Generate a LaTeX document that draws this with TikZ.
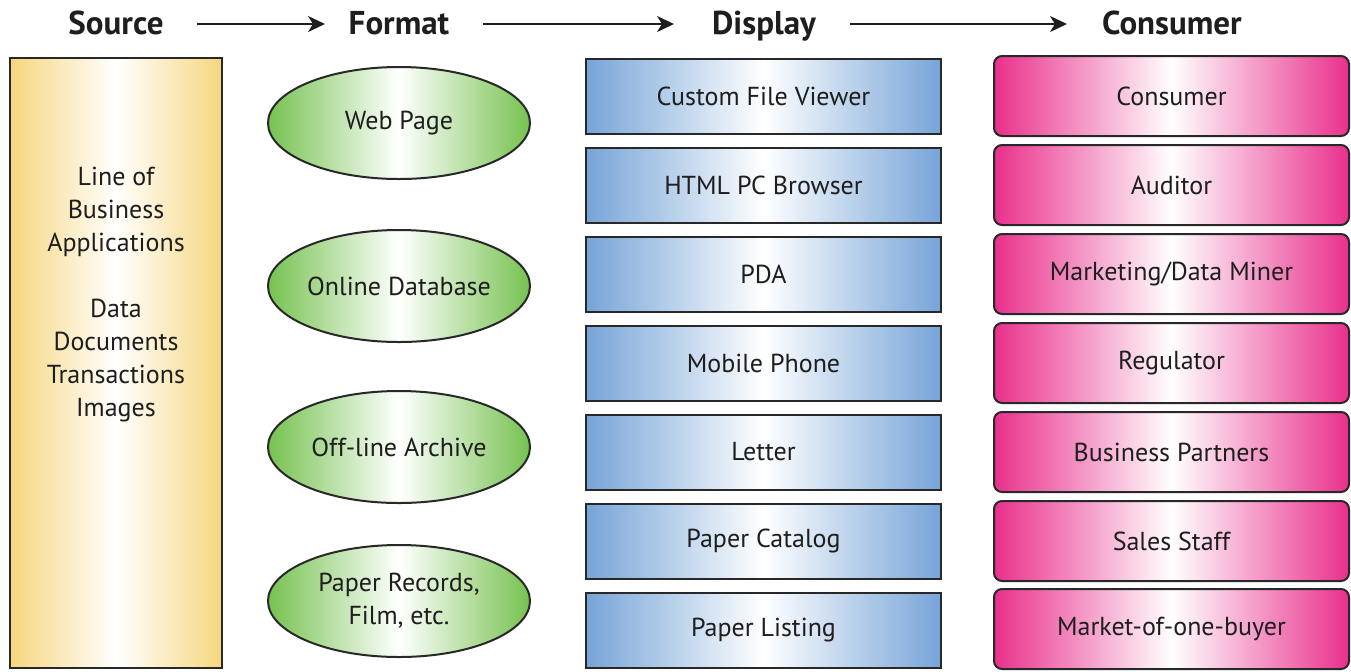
\documentclass[tikz,border=0pt]{standalone}
\usepackage{fontspec}
\setmainfont{PT Sans}
\usetikzlibrary{arrows.meta,shapes.geometric}
\definecolor{ylw}{RGB}{246,214,125}
\definecolor{grn}{RGB}{118,194,80}
\definecolor{blu}{RGB}{118,164,216}
\definecolor{pnk}{RGB}{233,48,140}
\definecolor{edgec}{RGB}{40,40,40}
\definecolor{txt}{RGB}{30,30,30}
\begin{document}
\begin{tikzpicture}[x=0.5pt,y=-0.5pt,
  hdr/.style={font=\fontsize{16.5}{18}\selectfont\bfseries, text=txt, anchor=base, inner sep=0pt},
  lbl/.style={font=\fontsize{13}{16.5}\selectfont, text=txt, align=center},
  arr/.style={draw=txt, line width=0.9pt, -{Stealth[length=8.5pt,width=8pt,inset=2.5pt]}},
  srcbox/.style={draw=edgec, line width=1pt, left color=ylw, right color=ylw, middle color=white,
    minimum width=106pt, minimum height=305pt, inner sep=0pt},
  fmtell/.style={ellipse, draw=edgec, line width=1pt, left color=grn, right color=grn, middle color=white,
    minimum width=131pt, minimum height=56pt, inner sep=0pt, lbl},
  dispbox/.style={rectangle, draw=edgec, line width=1pt, left color=blu, right color=blu, middle color=white,
    minimum width=177.5pt, minimum height=37.5pt, inner sep=0pt, lbl},
  consbox/.style={rectangle, rounded corners=4pt, draw=edgec, line width=1pt, left color=pnk, right color=pnk, middle color=white,
    minimum width=177.5pt, minimum height=40pt, inner sep=0pt, lbl}
]
\useasboundingbox (0,0) rectangle (1351,671);
% headers
\node[hdr] (hsrc) at (116,34) {Source};
\node[hdr] (hfmt) at (399,34) {Format};
\node[hdr] (hdsp) at (764,34) {Display};
\node[hdr] (hcon) at (1172,34) {Consumer};
\coordinate (a1s) at (197,24); \coordinate (a1e) at (325,24);
\coordinate (a2s) at (483,24); \coordinate (a2e) at (674,24);
\coordinate (a3s) at (850,24); \coordinate (a3e) at (1067,24);
\draw[arr] (a1s) -- (a1e);
\draw[arr] (a2s) -- (a2e);
\draw[arr] (a3s) -- (a3e);
% source
\node[srcbox] (src) at (116,363) {};
\node[lbl] (srctxt) at (116,295) {Line of\\Business\\Applications\\[16.5pt]Data\\Documents\\Transactions\\Images};
% formats
\node[fmtell] (f1) at (399,123) {Web Page};
\node[fmtell] (f2) at (399,286) {Online Database};
\node[fmtell] (f3) at (399,447) {Off-line Archive};
\node[fmtell] (f4) at (399,601) {Paper Records,\\Film, etc.};
% displays
\node[dispbox] (d1) at (763.5,96) {Custom File Viewer};
\node[dispbox] (d2) at (763.5,185) {HTML PC Browser};
\node[dispbox] (d3) at (763.5,274) {PDA};
\node[dispbox] (d4) at (763.5,363) {Mobile Phone};
\node[dispbox] (d5) at (763.5,452) {Letter};
\node[dispbox] (d6) at (763.5,541) {Paper Catalog};
\node[dispbox] (d7) at (763.5,630) {Paper Listing};
% consumers
\node[consbox] (c1) at (1171.5,96) {Consumer};
\node[consbox] (c2) at (1171.5,185) {Auditor};
\node[consbox] (c3) at (1171.5,274) {Marketing/Data Miner};
\node[consbox] (c4) at (1171.5,363) {Regulator};
\node[consbox] (c5) at (1171.5,452) {Business Partners};
\node[consbox] (c6) at (1171.5,541) {Sales Staff};
\node[consbox] (c7) at (1171.5,629) {Market-of-one-buyer};
\end{tikzpicture}
\end{document}
